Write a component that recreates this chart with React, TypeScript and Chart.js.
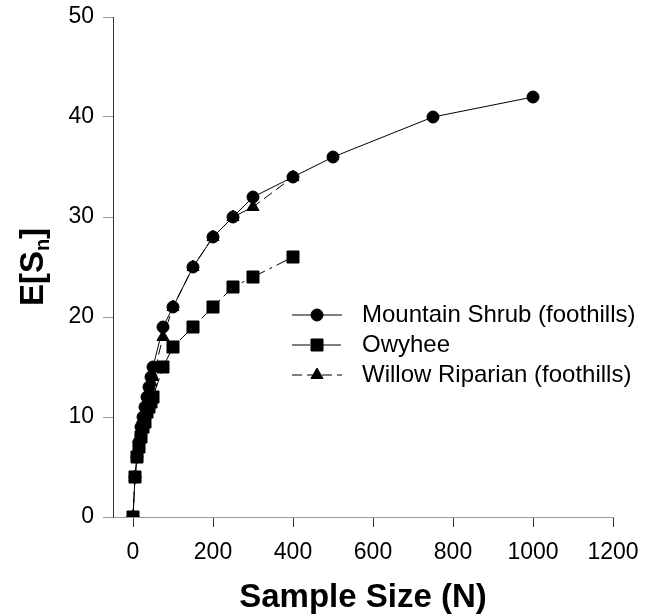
import React, { useEffect, useRef } from 'react';
import { Chart, registerables } from 'chart.js';

Chart.register(...registerables);

const W = 649;
const H = 616;

const xTickValues = [0, 200, 400, 600, 800, 1000, 1200];

const shrubN = [0, 5, 10, 15, 20, 25, 30, 35, 40, 45, 50, 75, 100, 150, 200, 250, 300, 400, 500, 750, 1000];
const shrubS = [0, 4, 6, 7.5, 9, 10, 11, 12, 13, 14, 15, 19, 21, 25, 28, 30, 32, 34, 36, 40, 42];

const owyheeN = [0, 5, 10, 15, 20, 25, 30, 35, 40, 45, 50, 75, 100, 150, 200, 250, 300, 400];
const owyheeS = [0, 4, 6, 7, 8, 9, 9.5, 10.5, 11, 11.5, 12, 15, 17, 19, 21, 23, 24, 26];

const willowN = [0, 5, 10, 15, 20, 25, 30, 35, 40, 45, 50, 75, 100, 150, 200, 250, 300, 400];
const willowS = [0, 4, 6, 7.5, 8.5, 9.5, 10.5, 11.5, 12.5, 13.5, 14, 18, 21, 25, 28, 30, 31, 34];

const seriesNames = ['Mountain Shrub (foothills)', 'Owyhee', 'Willow Riparian (foothills)'];

const FONT = 'Arial, "Liberation Sans", sans-serif';

const toPts = (xs: number[], ys: number[]) => xs.map((x, i) => ({ x, y: ys[i] }));

function drawMarker(ctx: CanvasRenderingContext2D, style: string, x: number, y: number, r: number) {
  ctx.beginPath();
  if (style === 'circle') {
    ctx.arc(x, y, r, 0, Math.PI * 2);
  } else if (style === 'rect') {
    const s = Math.SQRT1_2 * r;
    ctx.rect(x - s, y - s, 2 * s, 2 * s);
  } else {
    ctx.moveTo(x, y - r);
    ctx.lineTo(x + 0.866 * r, y + 0.5 * r);
    ctx.lineTo(x - 0.866 * r, y + 0.5 * r);
    ctx.closePath();
  }
  ctx.fill();
  ctx.stroke();
}

const overlayPlugin = {
  id: 'overlay',
  afterDraw(chart: any) {
    const ctx: CanvasRenderingContext2D = chart.ctx;
    const area = chart.chartArea;
    ctx.save();
    ctx.fillStyle = '#000';
    ctx.strokeStyle = '#000';

    // x title
    ctx.font = `bold 33px ${FONT}`;
    ctx.textAlign = 'center';
    ctx.textBaseline = 'middle';
    ctx.fillText('Sample Size (N)', (area.left + area.right) / 2, 598);

    // y title with subscript
    ctx.save();
    ctx.translate(31, (area.top + area.bottom) / 2);
    ctx.rotate(-Math.PI / 2);
    const bigFont = `bold 33px ${FONT}`;
    const smallFont = `bold 20px ${FONT}`;
    ctx.font = bigFont;
    const w1 = ctx.measureText('E[S').width;
    const w3 = ctx.measureText(']').width;
    ctx.font = smallFont;
    const w2 = ctx.measureText('n').width;
    let x0 = -(w1 + w2 + w3) / 2;
    ctx.textAlign = 'left';
    ctx.textBaseline = 'alphabetic';
    ctx.font = bigFont;
    ctx.fillText('E[S', x0, 12);
    x0 += w1;
    ctx.font = smallFont;
    ctx.fillText('n', x0, 18);
    x0 += w2;
    ctx.font = bigFont;
    ctx.fillText(']', x0, 12);
    ctx.restore();

    // legend
    const rows = [315, 345, 375];
    chart.data.datasets.forEach((ds: any, i: number) => {
      const y = rows[i];
      ctx.save();
      ctx.lineWidth = 1;
      ctx.strokeStyle = '#000';
      ctx.setLineDash(ds.borderDash || []);
      ctx.beginPath();
      ctx.moveTo(292, y);
      ctx.lineTo(342, y);
      ctx.stroke();
      ctx.setLineDash([]);
      ctx.fillStyle = '#000';
      drawMarker(ctx, ds.pointStyle, 317, y, ds.pointRadius);
      ctx.restore();
      ctx.font = `24px ${FONT}`;
      ctx.textAlign = 'left';
      ctx.textBaseline = 'middle';
      ctx.fillStyle = '#000';
      ctx.fillText(ds.label, 362, y);
    });
    ctx.restore();
  },
};

export default function App() {
  const ref = useRef<HTMLCanvasElement>(null);

  useEffect(() => {
    const common = {
      borderColor: '#000',
      backgroundColor: '#000',
      pointBackgroundColor: '#000',
      pointBorderColor: '#000',
      borderWidth: 1,
      pointBorderWidth: 1,
      showLine: true,
      tension: 0,
      fill: false,
    };
    const chart = new Chart(ref.current!, {
      type: 'scatter',
      data: {
        datasets: [
          {
            ...common,
            label: seriesNames[0],
            data: toPts(shrubN, shrubS),
            pointStyle: 'circle',
            pointRadius: 6,
            borderDash: [],
          },
          {
            ...common,
            label: seriesNames[1],
            data: toPts(owyheeN, owyheeS),
            pointStyle: 'rect',
            pointRadius: 8.5,
            borderDash: [18, 5, 3, 5],
          },
          {
            ...common,
            label: seriesNames[2],
            data: toPts(willowN, willowS),
            pointStyle: 'triangle',
            pointRadius: 7,
            borderDash: [10, 5],
          },
        ],
      } as any,
      options: {
        responsive: false,
        animation: false,
        devicePixelRatio: 1,
        layout: { padding: { top: 17, right: 36, left: 0, bottom: 0 } },
        plugins: {
          legend: { display: false },
          tooltip: { enabled: false },
          title: { display: false },
        },
        scales: {
          x: {
            type: 'linear',
            min: -50,
            max: 1200,
            afterBuildTicks: (s: any) => {
              s.ticks = xTickValues.map((v) => ({ value: v }));
            },
            afterFit: (s: any) => {
              s.height = 99;
              s.paddingLeft = 0;
              s.paddingRight = 0;
            },
            ticks: {
              font: { family: FONT, size: 23 },
              color: '#000',
              padding: 12,
              maxRotation: 0,
              autoSkip: false,
              callback: (v: any) => String(v),
            },
            grid: {
              drawOnChartArea: false,
              drawTicks: true,
              tickLength: 10,
              color: '#333',
            },
            border: { display: true, color: '#999', width: 1 },
          },
          y: {
            type: 'linear',
            min: 0,
            max: 50,
            afterFit: (s: any) => {
              s.width = 113;
              s.paddingTop = 0;
              s.paddingBottom = 0;
            },
            ticks: {
              stepSize: 10,
              font: { family: FONT, size: 23 },
              color: '#000',
              padding: 9,
              callback: (v: any) => String(v),
            },
            grid: {
              drawOnChartArea: false,
              drawTicks: true,
              tickLength: 10,
              color: '#999',
            },
            border: { display: true, color: '#333', width: 1 },
          },
        },
      } as any,
      plugins: [overlayPlugin],
    });
    return () => chart.destroy();
  }, []);

  return (
    <div style={{ position: 'absolute', left: 0, top: 0, width: W, height: H, background: '#fff' }}>
      <canvas ref={ref} width={W} height={H} style={{ display: 'block', width: W, height: H }} />
    </div>
  );
}
